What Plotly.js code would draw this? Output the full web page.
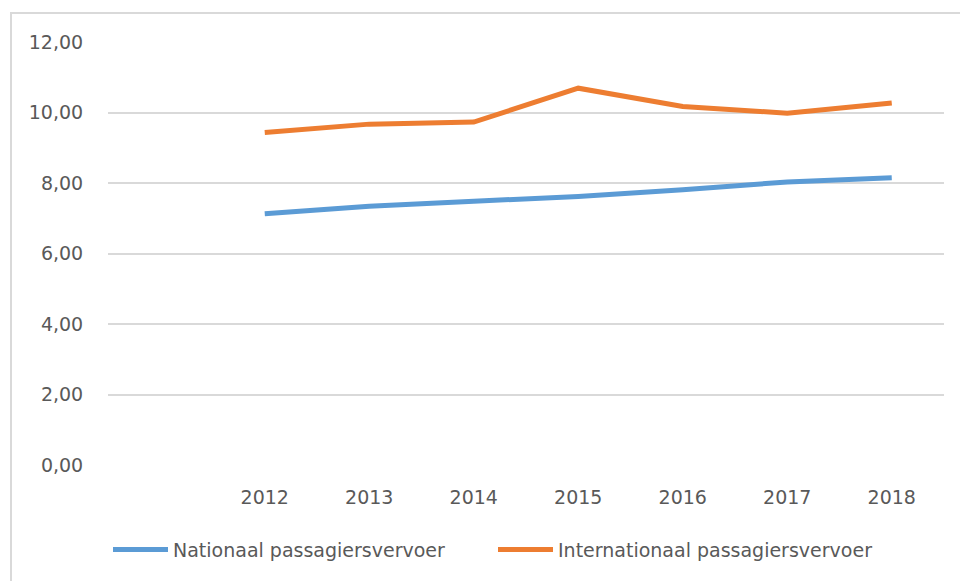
<!DOCTYPE html>
<html>
<head>
<meta charset="utf-8">
<script src="https://cdn.plot.ly/plotly-3.0.1.min.js"></script>
<style>
html,body{margin:0;padding:0;background:#fff;}
#wrap{position:relative;width:960px;height:581px;}
#chart{width:960px;height:581px;}
#frame{position:absolute;left:10px;top:12px;width:960px;height:600px;border-top:2px solid #D9D9D9;border-left:2px solid #D9D9D9;pointer-events:none;}
</style>
</head>
<body>
<div id="wrap"><div id="chart"></div><div id="frame"></div></div>
<script>
const years = [2012, 2013, 2014, 2015, 2016, 2017, 2018];
const yearLabels = ['2012', '2013', '2014', '2015', '2016', '2017', '2018'];
const nationaal = [7.13, 7.34, 7.48, 7.62, 7.81, 8.03, 8.15];
const internationaal = [9.43, 9.67, 9.73, 10.69, 10.17, 9.98, 10.27];
const yTicks = [0, 2, 4, 6, 8, 10, 12];
const yTickLabels = ['0,00', '2,00', '4,00', '6,00', '8,00', '10,00', '12,00'];

const font = {family: '"DejaVu Sans", sans-serif', size: 19, color: '#595959'};

const traces = [
  {x: years, y: nationaal, name: 'Nationaal passagiersvervoer', type: 'scatter', mode: 'lines',
   line: {color: '#5B9BD5', width: 5}},
  {x: years, y: internationaal, name: 'Internationaal passagiersvervoer', type: 'scatter', mode: 'lines',
   line: {color: '#ED7D31', width: 5}}
];

const layout = {
  width: 960, height: 581,
  margin: {l: 108, r: 16, t: 42, b: 114},
  paper_bgcolor: '#ffffff', plot_bgcolor: '#ffffff',
  font: font,
  showlegend: true,
  legend: {orientation: 'h', x: 0, xanchor: 'left', y: -0.155, yanchor: 'top',
           font: font, itemwidth: 55, tracegroupgap: 0, entrywidth: 315, entrywidthmode: 'pixels'},
  xaxis: {range: [2010.5, 2018.5], tickmode: 'array', tickvals: years, ticktext: yearLabels,
          showgrid: false, zeroline: false, showline: false, ticks: 'outside', ticklen: 15,
          tickcolor: 'rgba(0,0,0,0)', tickfont: font, fixedrange: true},
  yaxis: {range: [0, 12], tickmode: 'array', tickvals: yTicks, ticktext: yTickLabels,
          showgrid: true, gridcolor: '#D9D9D9', gridwidth: 2, zeroline: false, showline: false,
          ticks: 'outside', ticklen: 20, tickcolor: 'rgba(0,0,0,0)', tickfont: font, fixedrange: true}
};

Plotly.newPlot('chart', traces, layout, {displayModeBar: false, staticPlot: true});
</script>
</body>
</html>
